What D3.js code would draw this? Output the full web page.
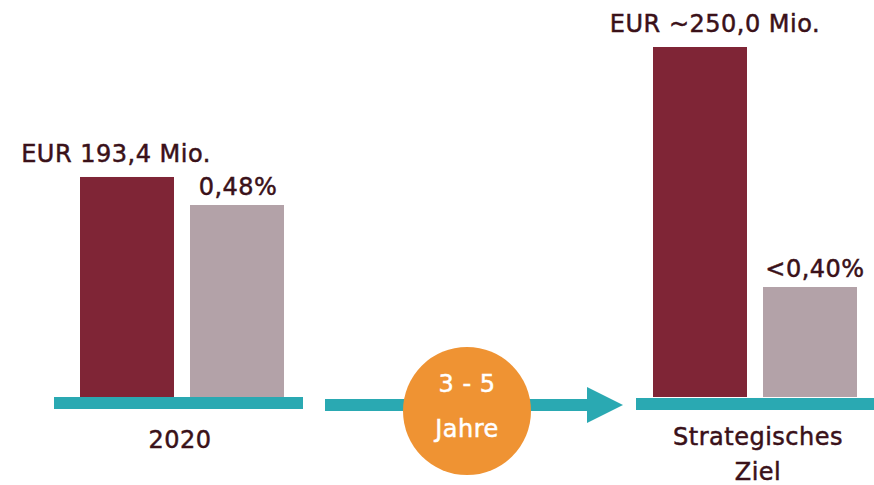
<!DOCTYPE html>
<html>
<head>
<meta charset="utf-8">
<script src="https://cdn.jsdelivr.net/npm/d3@7"></script>
<style>
  body { margin: 0; background: #fff; }
  text { font-family: "DejaVu Sans", "Open Sans", sans-serif; }
</style>
</head>
<body>
<script>
// data
const categories = ["2020", "Strategisches Ziel"];
const eurValues = [193.4, 250.0];
const pctValues = [0.48, 0.40];
const eurLabels = ["EUR 193,4 Mio.", "EUR ~250,0 Mio."];
const pctLabels = ["0,48%", "<0,40%"];
const catLabels = [["2020"], ["Strategisches", "Ziel"]];
const periodLabel = ["3 - 5", "Jahre"];

document.addEventListener("DOMContentLoaded", function () {
  const width = 874, height = 485;
  const baseY = 397;

  const svg = d3.select("body").append("svg")
    .attr("width", width)
    .attr("height", height);

  // groups and bars within a group
  const x0 = d3.scalePoint().domain(categories).range([80, 653]);
  const x1 = d3.scaleBand().domain(["eur", "pct"]).range([0, 204]).paddingInner(0.1455);

  // illustrative scales (bars are not drawn from zero in the original)
  const yEur = d3.scaleLinear().domain([97.6, 250]).range([baseY, 47]);
  const yPct = d3.scaleLinear().domain([0.2927, 0.48]).range([baseY, 205]);

  const darkRed = "#7f2536", grey = "#b3a2a8", teal = "#2aa9b2",
        orange = "#ef9333", ink = "#3a1119";

  const label = sel => sel
    .attr("text-anchor", "middle")
    .attr("font-size", 24)
    .attr("letter-spacing", 0.5)
    .attr("fill", ink)
    .attr("stroke", ink)
    .attr("stroke-width", 0.5);

  // bars
  svg.selectAll(".eur").data(categories).join("rect")
    .attr("class", "eur")
    .attr("x", d => x0(d) + x1("eur"))
    .attr("width", x1.bandwidth())
    .attr("y", (d, i) => yEur(eurValues[i]))
    .attr("height", (d, i) => baseY - yEur(eurValues[i]))
    .attr("fill", darkRed);

  svg.selectAll(".pct").data(categories).join("rect")
    .attr("class", "pct")
    .attr("x", d => x0(d) + x1("pct"))
    .attr("width", x1.bandwidth())
    .attr("y", (d, i) => yPct(pctValues[i]))
    .attr("height", (d, i) => baseY - yPct(pctValues[i]))
    .attr("fill", grey);

  // baselines
  const padLeft = [26, 17], padRight = [19, 30];
  svg.selectAll(".base").data(categories).join("rect")
    .attr("class", "base")
    .attr("x", (d, i) => x0(d) - padLeft[i])
    .attr("width", (d, i) => 204 + padLeft[i] + padRight[i])
    .attr("y", (d, i) => baseY + i)
    .attr("height", 12)
    .attr("fill", teal);

  // value labels
  const eurShift = [-11, 15], pctShift = [1, 5];
  svg.selectAll(".eurLabel").data(categories).join("text")
    .attr("class", "eurLabel")
    .attr("x", (d, i) => x0(d) + x1("eur") + x1.bandwidth() / 2 + eurShift[i])
    .attr("y", (d, i) => yEur(eurValues[i]) - 15)
    .call(label)
    .text((d, i) => eurLabels[i]);

  svg.selectAll(".pctLabel").data(categories).join("text")
    .attr("class", "pctLabel")
    .attr("x", (d, i) => x0(d) + x1("pct") + x1.bandwidth() / 2 + pctShift[i])
    .attr("y", (d, i) => yPct(pctValues[i]) - 10)
    .call(label)
    .text((d, i) => pctLabels[i]);

  // category labels
  const catShift = [-2, 3], catY = [448, 445];
  const cat = svg.selectAll(".cat").data(categories).join("text")
    .attr("class", "cat")
    .attr("x", (d, i) => x0(d) + 102 + catShift[i])
    .attr("y", (d, i) => catY[i])
    .call(label);
  cat.selectAll("tspan").data((d, i) => catLabels[i]).join("tspan")
    .attr("x", function () { return d3.select(this.parentNode).attr("x"); })
    .attr("dy", (d, i) => i === 0 ? 0 : 35)
    .text(d => d);

  // arrow
  svg.append("rect")
    .attr("x", 325).attr("y", 399)
    .attr("width", 265).attr("height", 12)
    .attr("fill", teal);
  svg.append("path")
    .attr("d", "M587,387 L623,405 L587,423 Z")
    .attr("fill", teal);

  svg.append("circle")
    .attr("cx", 467).attr("cy", 411).attr("r", 64)
    .attr("fill", orange);

  svg.selectAll(".period").data(periodLabel).join("text")
    .attr("class", "period")
    .attr("x", 467)
    .attr("y", (d, i) => 392 + i * 45)
    .attr("text-anchor", "middle")
    .attr("font-size", 24)
    .attr("letter-spacing", 0.5)
    .attr("fill", "#fff")
    .attr("stroke", "#fff")
    .attr("stroke-width", 0.5)
    .text(d => d);
});
</script>
</body>
</html>
